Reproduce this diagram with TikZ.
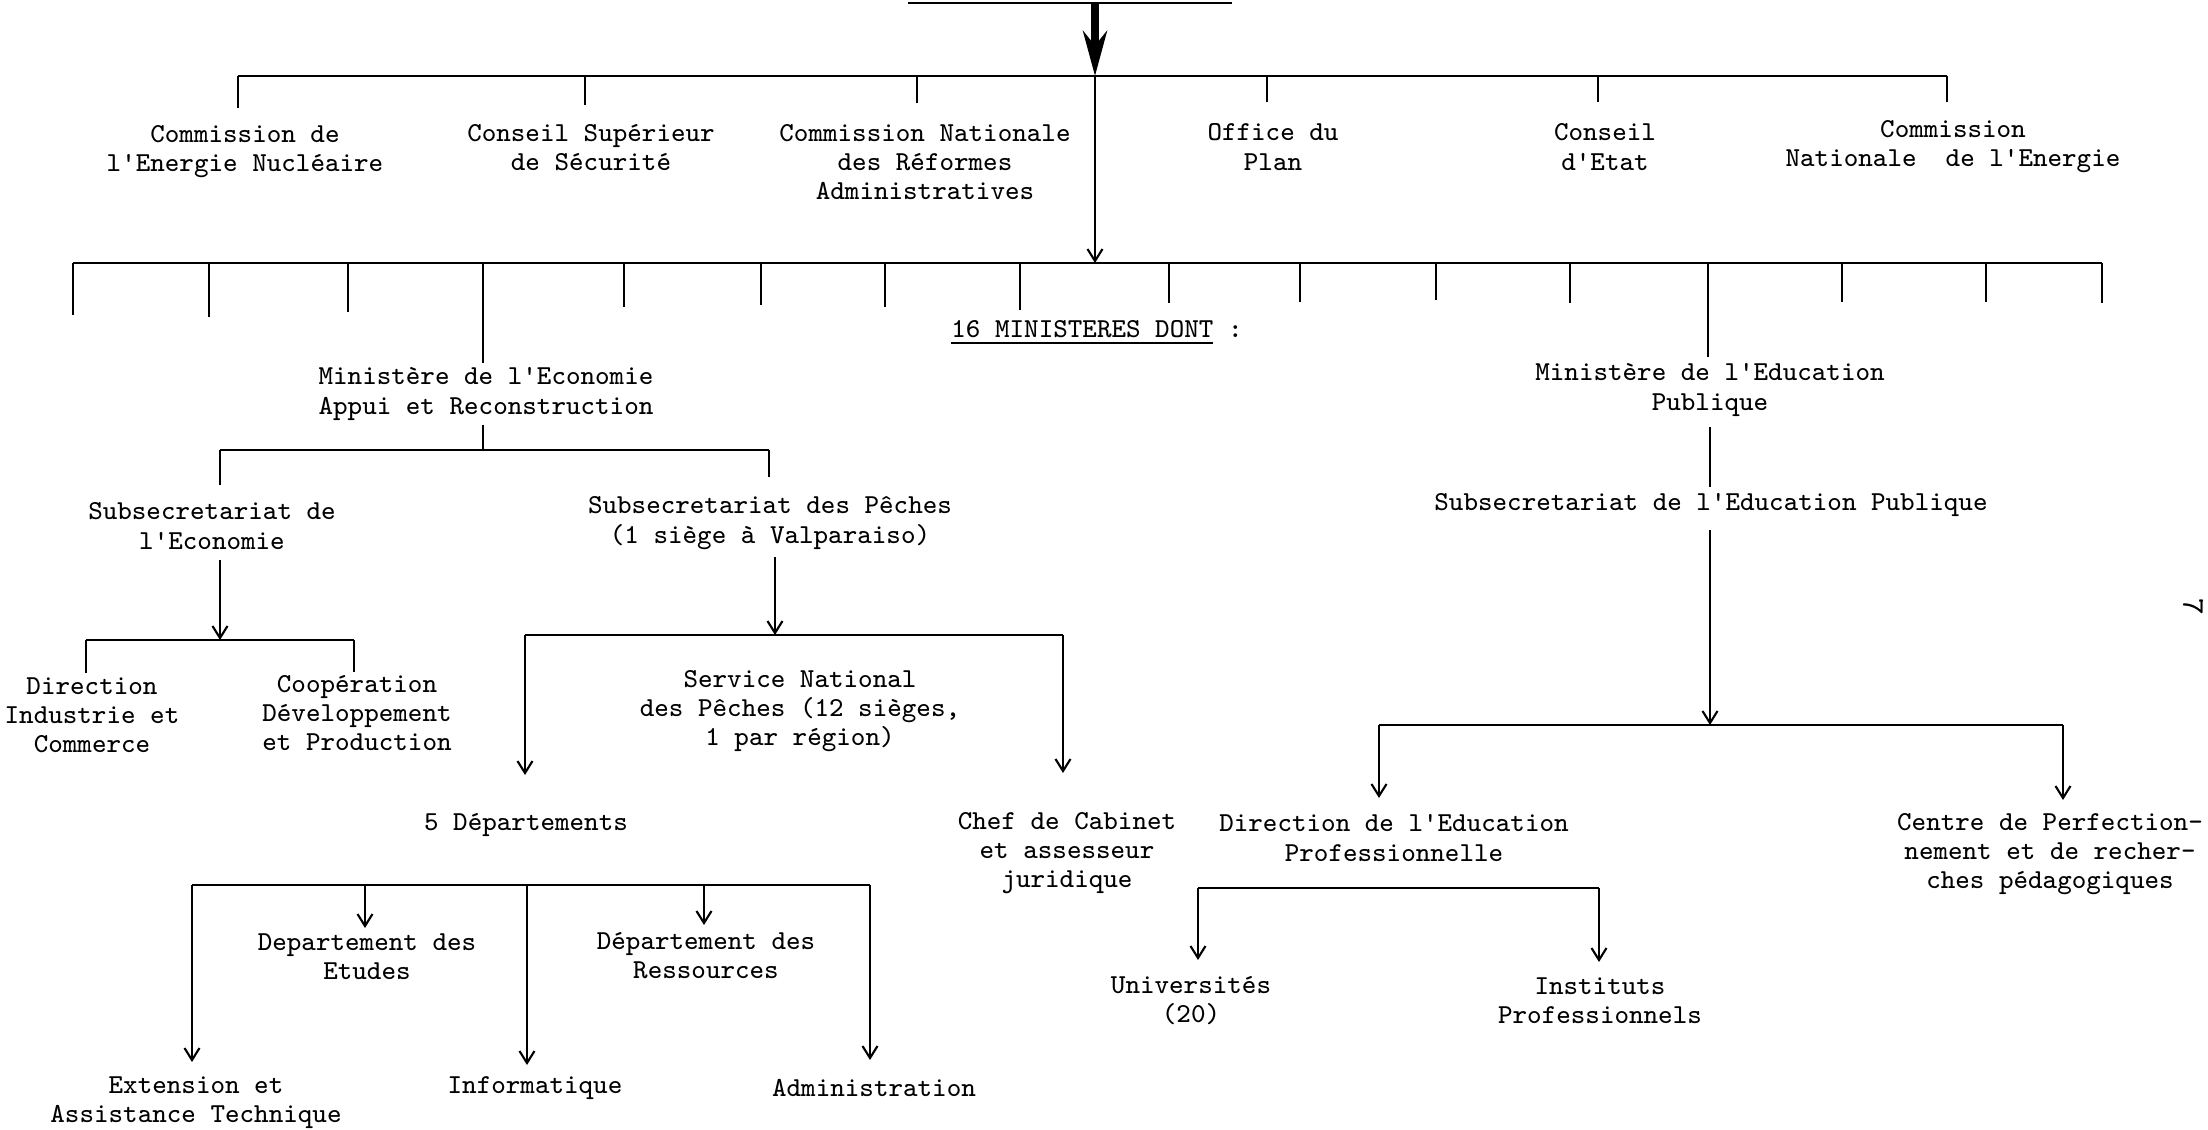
\documentclass[tikz,border=0pt]{standalone}
\usetikzlibrary{arrows.meta}

\begin{document}
\begin{tikzpicture}[x=0.1mm,y=-0.1mm,
	lbl/.style={font=\fontsize{7.8}{8.3}\selectfont\ttfamily,align=center,inner sep=0pt},
	line/.style={line width=0.6pt},
	arr/.style={line width=0.6pt,-{Straight Barb[length=1.2mm,width=1.5mm]}},
	big/.style={line width=2pt,-{Stealth[length=4.5mm,width=2.4mm]}}]
	\useasboundingbox (0,0) rectangle (2208,1130);

	\node[lbl] (cen) at (245,152) {Commission de\\l'Energie Nucléaire};
	\node[lbl] (css) at (591,148) {Conseil Supérieur\\de Sécurité};
	\node[lbl] (cnr) at (925,162) {Commission Nationale\\des Réformes\\Administratives};
	\node[lbl] (opl) at (1273,147) {Office du\\Plan};
	\node[lbl] (cet) at (1605,147) {Conseil\\d'Etat};
	\node[lbl] (cne) at (1953,147) {Commission\\Nationale\ \ de l'Energie};
	\node[lbl] (min) at (1097,333) {\underline{16 MINISTERES DONT} :};
	\node[lbl] (eco) at (486,394) {Ministère de l'Economie\\Appui et Reconstruction};
	\node[lbl] (edu) at (1710,390) {Ministère de l'Education\\Publique};
	\node[lbl] (sse) at (212,526) {Subsecretariat de\\l'Economie};
	\node[lbl] (ssp) at (770,523) {Subsecretariat des Pêches\\(1 siège à Valparaiso)};
	\node[lbl] (dic) at (92,715) {Direction\\Industrie et\\Commerce};
	\node[lbl] (cdp) at (357,713) {Coopération\\Développement\\et Production};
	\node[lbl] (snp) at (800,711) {Service National\\des Pêches (12 sièges,\\1 par région)};
	\node[lbl] (dep) at (526,825) {5 Départements};
	\node[lbl] (cab) at (1067,853) {Chef de Cabinet\\et assesseur\\juridique};
	\node[lbl] (det) at (367,957) {Departement des\\Etudes};
	\node[lbl] (dre) at (706,956) {Département des\\Ressources};
	\node[lbl] (ext) at (196,1103) {Extension et\\Assistance Technique};
	\node[lbl] (inf) at (535,1088) {Informatique};
	\node[lbl] (adm) at (874,1088) {Administration};
	\node[lbl] (sed) at (1711,505) {Subsecretariat de l'Education Publique};
	\node[lbl] (dep2) at (1394,838) {Direction de l'Education\\Professionnelle};
	\node[lbl] (cpr) at (2050,854) {Centre de Perfection-\\nement et de recher-\\ches pédagogiques};
	\node[lbl] (uni) at (1191,1001) {Universités\\(20)};
	\node[lbl] (ins) at (1600,1001) {Instituts\\Professionnels};
	\node[lbl,font=\fontsize{9}{9}\selectfont\ttfamily,rotate=-90] (pg) at (2193,607) {7};

	% tete
	\coordinate (tl) at (908,3);
	\coordinate (tr) at (1232,3);
	\coordinate (top) at (1095,3);
	\coordinate (j1) at (1095,76);
	\coordinate (j2) at (1095,263);
	\path [line] (tl) edge (tr);
	\path [big] (top) edge (j1);
	\path [arr] (j1) edge (j2);

	% organismes rattaches
	\coordinate (b1w) at (238,76);
	\coordinate (b1e) at (1947,76);
	\path [line] (b1w) edge (b1e);
	\foreach \x/\y [count=\i] in {238/108,585/105,917/103,1267/102,1598/102,1947/102} {
		\coordinate (ct\i) at (\x,76);
		\coordinate (cb\i) at (\x,\y);
		\path [line] (ct\i) edge (cb\i);
	}

	% 16 ministeres
	\coordinate (b2w) at (73,263);
	\coordinate (b2e) at (2102,263);
	\path [line] (b2w) edge (b2e);
	\foreach \x/\y [count=\i] in {73/315,209/317,348/312,483/363,624/307,761/305,885/307,1020/310,
		1169/303,1300/302,1436/300,1570/303,1708/357,1842/302,1986/302,2102/303} {
		\coordinate (mt\i) at (\x,263);
		\coordinate (mb\i) at (\x,\y);
		\path [line] (mt\i) edge (mb\i);
	}

	% economie
	\coordinate (e1) at (483,425);
	\coordinate (e2) at (483,450);
	\coordinate (e3w) at (220,450);
	\coordinate (e3e) at (769,450);
	\coordinate (e4) at (220,485);
	\coordinate (e5) at (769,477);
	\path [line] (e1) edge (e2);
	\path [line] (e3w) edge (e3e);
	\path [line] (e3w) edge (e4);
	\path [line] (e3e) edge (e5);

	\coordinate (s1) at (220,560);
	\coordinate (s2) at (220,640);
	\coordinate (s3w) at (86,640);
	\coordinate (s3e) at (354,640);
	\coordinate (s4) at (86,673);
	\coordinate (s5) at (354,672);
	\path [arr] (s1) edge (s2);
	\path [line] (s3w) edge (s3e);
	\path [line] (s3w) edge (s4);
	\path [line] (s3e) edge (s5);

	\coordinate (p1) at (775,557);
	\coordinate (p2) at (775,635);
	\coordinate (p3w) at (525,635);
	\coordinate (p3e) at (1063,635);
	\coordinate (p4) at (525,775);
	\coordinate (p5) at (1063,773);
	\path [arr] (p1) edge (p2);
	\path [line] (p3w) edge (p3e);
	\path [arr] (p3w) edge (p4);
	\path [arr] (p3e) edge (p5);

	\coordinate (d0w) at (192,885);
	\coordinate (d0e) at (870,885);
	\path [line] (d0w) edge (d0e);
	\foreach \x/\y [count=\i] in {192/1062,365/928,527/1065,704/925,870/1060} {
		\coordinate (dt\i) at (\x,885);
		\coordinate (db\i) at (\x,\y);
		\path [arr] (dt\i) edge (db\i);
	}

	% education
	\coordinate (u1) at (1710,427);
	\coordinate (u2) at (1710,487);
	\coordinate (u3) at (1710,530);
	\coordinate (u4) at (1710,725);
	\coordinate (u5w) at (1379,725);
	\coordinate (u5e) at (2063,725);
	\coordinate (u6) at (1379,798);
	\coordinate (u7) at (2063,800);
	\path [line] (u1) edge (u2);
	\path [arr] (u3) edge (u4);
	\path [line] (u5w) edge (u5e);
	\path [arr] (u5w) edge (u6);
	\path [arr] (u5e) edge (u7);

	\coordinate (v1w) at (1198,888);
	\coordinate (v1e) at (1599,888);
	\coordinate (v2) at (1198,960);
	\coordinate (v3) at (1599,962);
	\path [line] (v1w) edge (v1e);
	\path [arr] (v1w) edge (v2);
	\path [arr] (v1e) edge (v3);
\end{tikzpicture}
\end{document}
